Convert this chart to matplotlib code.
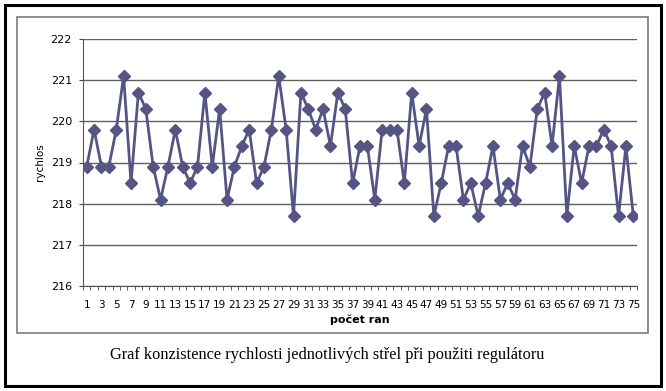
import numpy as np
import matplotlib.pyplot as plt
from matplotlib.patches import Rectangle

shots = np.arange(1, 76)
speed = [218.9, 219.8, 218.9, 218.9, 219.8, 221.1, 218.5, 220.7, 220.3, 218.9,
         218.1, 218.9, 219.8, 218.9, 218.5, 218.9, 220.7, 218.9, 220.3, 218.1,
         218.9, 219.4, 219.8, 218.5, 218.9, 219.8, 221.1, 219.8, 217.7, 220.7,
         220.3, 219.8, 220.3, 219.4, 220.7, 220.3, 218.5, 219.4, 219.4, 218.1,
         219.8, 219.8, 219.8, 218.5, 220.7, 219.4, 220.3, 217.7, 218.5, 219.4,
         219.4, 218.1, 218.5, 217.7, 218.5, 219.4, 218.1, 218.5, 218.1, 219.4,
         218.9, 220.3, 220.7, 219.4, 221.1, 217.7, 219.4, 218.5, 219.4, 219.4,
         219.8, 219.4, 217.7, 219.4, 217.7]
yticks = [216, 217, 218, 219, 220, 221, 222]

W, H = 666, 391
fig = plt.figure(figsize=(W / 100, H / 100), dpi=100)
fig.patch.set_facecolor('white')

# outer black frame and inner grey chart frame
fig.patches.append(Rectangle((5 / W, 5 / H), 656 / W, 381 / H, transform=fig.transFigure,
                             fill=False, edgecolor='black', linewidth=2.2))
fig.patches.append(Rectangle((17 / W, (H - 333) / H), 631 / W, 316 / H, transform=fig.transFigure,
                             fill=False, edgecolor='#7a7a7a', linewidth=1.2))

ax = fig.add_axes([83 / W, (H - 286) / H, 554 / W, 247 / H])
ax.plot(shots, speed, color='#555585', linewidth=2, marker='D', markersize=5.8,
        markerfacecolor='#555585', markeredgecolor='#555585', zorder=3)

ax.set_xlim(0.5, 75.5)
ax.set_ylim(216, 222)
ax.set_yticks(yticks)
ax.set_yticklabels([str(v) for v in yticks], fontsize=8)
ax.set_xticks(shots[::2])
ax.set_xticklabels([str(v) for v in shots[::2]], fontsize=7.5)
ax.set_xticks(np.arange(0.5, 76, 1), minor=True)
ax.tick_params(axis='x', which='major', length=0, pad=10)
ax.tick_params(axis='x', which='minor', length=3, direction='out', color='#444444')
ax.tick_params(axis='y', length=3, direction='out', color='#444444', pad=5)
ax.yaxis.grid(True, color='#606060', linewidth=1)
ax.set_axisbelow(True)
for s in ['top', 'right']:
    ax.spines[s].set_visible(False)
ax.spines['left'].set_color('#555555')
ax.spines['bottom'].set_color('#555555')

ax.set_ylabel('rychlos', fontsize=7.5)
ax.set_xlabel('počet ran', fontsize=8, fontweight='bold', labelpad=3)

fig.text(327 / W, (H - 355) / H, 'Graf konzistence rychlosti jednotlivých střel při použiti regulátoru',
         ha='center', va='center', fontsize=11.8, family='Liberation Serif')

fig.savefig('out.png', dpi=100)
